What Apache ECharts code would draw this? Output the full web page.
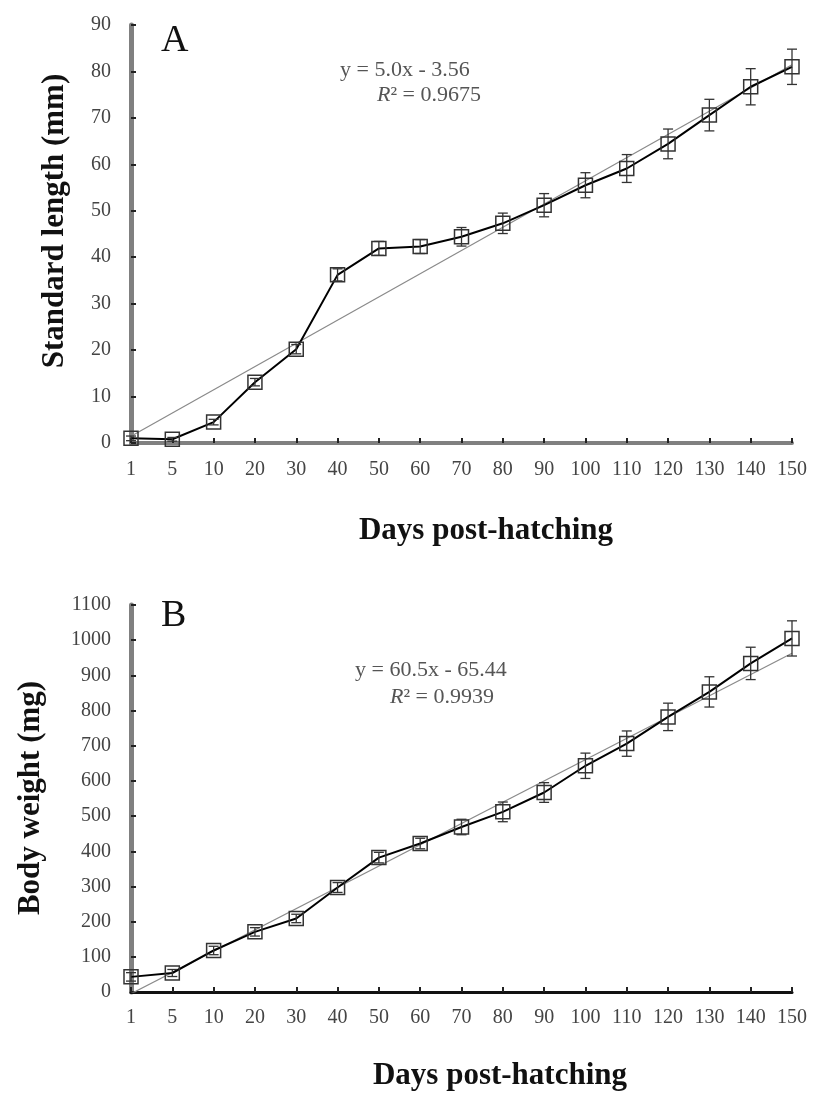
<!DOCTYPE html>
<html>
<head>
<meta charset="utf-8">
<script src="https://cdn.jsdelivr.net/npm/echarts@6/dist/echarts.min.js"></script>
<style>
html,body{margin:0;padding:0;background:#fff;}
#chart{width:827px;height:1105px;}
</style>
</head>
<body>
<div id="chart"></div>
<script>
// ---- data ----
const days = ['1','5','10','20','30','40','50','60','70','80','90','100','110','120','130','140','150'];
const lengthMean = [1.0, 0.8, 4.5, 13.1, 20.2, 36.2, 41.9, 42.3, 44.4, 47.3, 51.2, 55.5, 59.1, 64.4, 70.6, 76.7, 81.0];
const lengthSD   = [0.5, 0.4, 0.6, 0.8, 1.0, 1.3, 1.5, 1.5, 2.0, 2.2, 2.5, 2.7, 3.0, 3.2, 3.4, 3.9, 3.8];
const weightMean = [43, 54, 118, 171, 209, 297, 382, 422, 469, 512, 567, 643, 706, 782, 853, 934, 1005];
const weightSD   = [12, 10, 12, 12, 12, 14, 15, 15, 22, 28, 28, 36, 36, 39, 43, 46, 50];
// trend line end values (from fitted equations shown on the chart)
const trendA = [1.44, 81.44];
const trendB = [-4.94, 963.06];
const eqA = ['y = 5.0x - 3.56', '0.9675'];
const eqB = ['y = 60.5x - 65.44', '0.9939'];
const yTitleA = 'Standard length (mm)';
const yTitleB = 'Body weight (mg)';
const xTitle = 'Days post-hatching';

const FONT = "'Liberation Serif','Times New Roman',serif";

function errData(mean, sd){ return mean.map((m,i)=>[i, m - sd[i], m + sd[i]]); }

function errRender(params, api){
  const x = api.value(0);
  const lo = api.coord([x, api.value(1)]);
  const hi = api.coord([x, api.value(2)]);
  const w = 5;
  const st = {stroke:'#333', lineWidth:1.3};
  return {type:'group', children:[
    {type:'line', shape:{x1:lo[0], y1:lo[1], x2:hi[0], y2:hi[1]}, style:st},
    {type:'line', shape:{x1:lo[0]-w, y1:lo[1], x2:lo[0]+w, y2:lo[1]}, style:st},
    {type:'line', shape:{x1:hi[0]-w, y1:hi[1], x2:hi[0]+w, y2:hi[1]}, style:st}
  ]};
}

function xAxisCfg(gi, lineColor, lineWidth, margin){
  return {
    type:'category', gridIndex:gi, data:days, boundaryGap:false,
    axisLine:{lineStyle:{color:lineColor, width:lineWidth}},
    axisTick:{inside:true, length:5, lineStyle:{color:'#222', width:2}},
    axisLabel:{color:'#444', fontFamily:FONT, fontSize:20, margin:margin, interval:0},
    splitLine:{show:false}
  };
}
function yAxisCfg(gi, max, interval){
  return {
    type:'value', gridIndex:gi, min:0, max:max, interval:interval,
    axisLine:{show:true, lineStyle:{color:'#808080', width:5}},
    axisTick:{show:true, inside:true, length:5, lineStyle:{color:'#222', width:2}},
    axisLabel:{color:'#444', fontFamily:FONT, fontSize:20, margin:20, formatter:(v)=>String(v)},
    splitLine:{show:false}
  };
}
function meanSeries(idx, data){
  return {
    type:'line', xAxisIndex:idx, yAxisIndex:idx, data:data, z:3,
    symbol:'rect', symbolSize:14,
    lineStyle:{color:'#000', width:2},
    itemStyle:{color:'rgba(0,0,0,0)', borderColor:'#333', borderWidth:1.5}
  };
}
function trendSeries(idx, ends){
  return {
    type:'line', xAxisIndex:idx, yAxisIndex:idx, z:2, symbol:'none',
    data:[[days[0], ends[0]], [days[days.length-1], ends[1]]],
    lineStyle:{color:'#8a8a8a', width:1.2}
  };
}

const option = {
  animation:false,
  backgroundColor:'#fff',
  grid:[
    {left:131, right:35, top:25, height:418},
    {left:131, right:35, top:605, height:387}
  ],
  xAxis:[ xAxisCfg(0,'#808080',4,17), xAxisCfg(1,'#111',3,16) ],
  yAxis:[ yAxisCfg(0,90,10), yAxisCfg(1,1100,100) ],
  series:[
    trendSeries(0, trendA),
    meanSeries(0, lengthMean),
    {type:'custom', xAxisIndex:0, yAxisIndex:0, z:4, renderItem:errRender, data:errData(lengthMean,lengthSD)},
    trendSeries(1, trendB),
    meanSeries(1, weightMean),
    {type:'custom', xAxisIndex:1, yAxisIndex:1, z:4, renderItem:errRender, data:errData(weightMean,weightSD)}
  ],
  graphic:[
    {type:'text', left:161, top:22, style:{text:'A', font:"38px "+FONT, fill:'#111'}},
    {type:'text', left:161, top:597, style:{text:'B', font:"38px "+FONT, fill:'#111'}},
    {type:'text', x:340, y:70, style:{text:eqA[0], font:"22px "+FONT, fill:'#555', verticalAlign:'middle'}},
    {type:'text', x:377, y:95, style:{text:'{i|R}² = '+eqA[1], font:"22px "+FONT, fill:'#555', verticalAlign:'middle',
        rich:{i:{fontStyle:'italic', fontSize:22, fontFamily:FONT, fill:'#555'}}}},
    {type:'text', x:355, y:670, style:{text:eqB[0], font:"22px "+FONT, fill:'#555', verticalAlign:'middle'}},
    {type:'text', x:390, y:697, style:{text:'{i|R}² = '+eqB[1], font:"22px "+FONT, fill:'#555', verticalAlign:'middle',
        rich:{i:{fontStyle:'italic', fontSize:22, fontFamily:FONT, fill:'#555'}}}},
    {type:'text', x:55, y:221, rotation:Math.PI/2, style:{text:yTitleA, font:"bold 31px "+FONT, fill:'#111', align:'center', verticalAlign:'middle'}},
    {type:'text', x:31, y:798, rotation:Math.PI/2, style:{text:yTitleB, font:"bold 31px "+FONT, fill:'#111', align:'center', verticalAlign:'middle'}},
    {type:'text', x:486, y:531, style:{text:xTitle, font:"bold 31px "+FONT, fill:'#111', align:'center', verticalAlign:'middle'}},
    {type:'text', x:500, y:1076, style:{text:xTitle, font:"bold 31px "+FONT, fill:'#111', align:'center', verticalAlign:'middle'}}
  ]
};

const chart = echarts.init(document.getElementById('chart'), null, {renderer:'canvas'});
chart.setOption(option);
</script>
</body>
</html>
